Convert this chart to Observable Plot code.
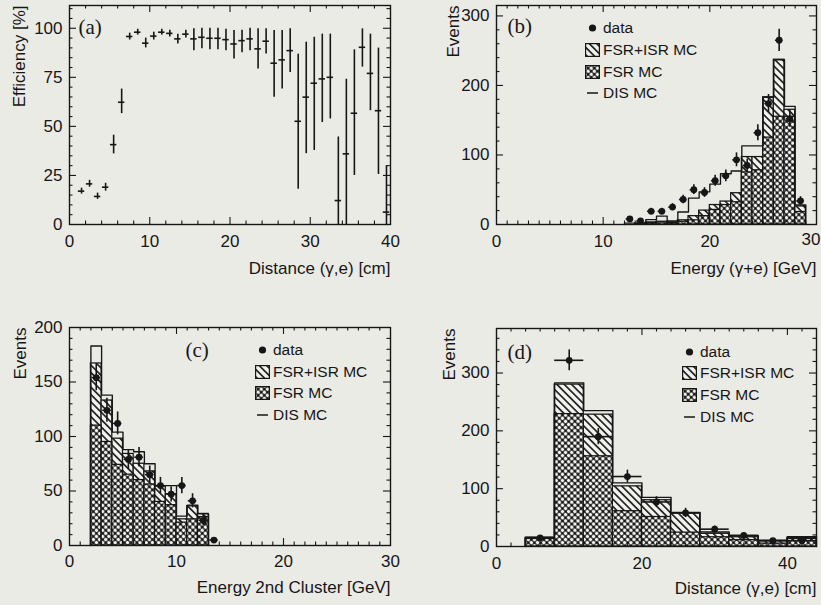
<!DOCTYPE html>
<html>
<head>
<meta charset="utf-8">
<script src="https://cdn.jsdelivr.net/npm/d3@7"></script>
<script src="https://cdn.jsdelivr.net/npm/@observablehq/plot@0.6"></script>
<style>
  html, body { margin: 0; padding: 0; background: #ebebe6; }
  #fig { position: relative; width: 821px; height: 605px; overflow: hidden; background: #ebebe6;
         font-family: "Liberation Sans", Arial, Helvetica, sans-serif; color: #161616; }
  .panel { position: absolute; }
  .legend { position: absolute; font-size: 15.5px; }
  .legend .row { display: flex; align-items: center; height: 21.7px; white-space: nowrap; }
  .legend svg { width: 15px; height: 14px; margin-right: 3px; flex: none; overflow: visible; }
</style>
</head>
<body>
<svg width="0" height="0" style="position:absolute">
  <defs>
    <pattern id="hatch" width="5.2" height="5.2" patternUnits="userSpaceOnUse" patternTransform="rotate(-45)">
      <rect width="5.2" height="5.2" fill="#f1f1ed"/>
      <line x1="2.6" y1="0" x2="2.6" y2="5.2" stroke="#161616" stroke-width="1.6"/>
    </pattern>
    <pattern id="cross" width="4.4" height="4.4" patternUnits="userSpaceOnUse" patternTransform="rotate(45)">
      <rect width="4.4" height="4.4" fill="#161616"/>
      <circle cx="2.2" cy="2.2" r="1.78" fill="#f1f1ed"/>
    </pattern>
  </defs>
</svg>
<div id="fig"></div>
<script>
const ink = "#161616";

// ---------- Panel (a): efficiency vs distance ----------
const aDist = [1.5,2.5,3.5,4.5,5.5,6.5,7.5,8.5,9.5,10.5,11.5,12.5,13.5,14.5,15.5,16.5,17.5,18.5,19.5,20.5,
               21.5,22.5,23.5,24.5,25.5,26.5,27.5,28.5,29.5,30.5,31.5,32.5,33.5,34.5,35.5,36.5,37.5,38.5,39.5];
const aEff  = [17,20.7,14.3,19,40.7,62.3,95.8,98,92.4,96,98,97.4,94.6,97,94.6,95.4,94.9,94.9,94.2,92,
               93.7,94.6,89.5,93.4,82.2,83.9,88.6,52.6,64.9,72,74.2,75,12.2,36,56.7,90.3,77,58,6.3];
const aLow  = [15.5,19,12.8,17,36,56.5,94,96.5,90,94,96.5,95.5,92,95,88.6,89.5,89,89,88.5,84.4,
               87.5,88.5,79.3,86.9,64.9,69,77.5,18,36.1,37.7,52,53.8,0,0,25,80.2,58,25.5,0];
const aHigh = [18.5,22.5,16,21,45.5,69,97.5,99.5,95,98,99.5,99,97,99,99.7,100,100,100,99.5,98.8,
               99,100,99.7,99.7,98.8,98.8,99.7,86.8,92.9,95.4,97,97,44.6,74,89,99.7,97,89.9,30];
const aTicksX = [0,10,20,30,40];
const aTicksY = [0,25,50,75,100];

// ---------- Panel (b): energy (gamma+e) ----------
const bBinLo  = [12,13,14,15,16,17,18,19,20,21,22,23,24,25,26,27,28];
const bDIS    = [2,2,7,12,5,18,38,47,58,73,77,113,113,183,237,170,28];
const bFSRISR = [0,1,3,4,3,6,12,20,28,33,45,97,97,183,237,165,26];
const bFSR    = [0,1,2,3,2,4,6,12,21,28,32,75,78,125,155,155,18];
const bDataX  = [12.5,13.5,14.5,15.5,16.5,17.5,18.5,19.5,20.5,21.5,22.5,23.5,24.5,25.5,26.5,27.5,28.5];
const bData   = [8,5,19,19,25,36,50,46,63,70,93,85,132,174,265,152,34];
const bErr    = [3,2.5,4.5,4.5,5,6,7,7,8,8.5,10,9,11.5,13,16,12,6];
const bTicksX = [0,10,20];
const bEdgeTick = [30];
const bTicksY = [0,100,200,300];

// ---------- Panel (c): energy of 2nd cluster ----------
const cBinLo  = [2,3,4,5,6,7,8,9,10,11,12];
const cDIS    = [183,138,104,88,86,75,55,55,27,37,29];
const cFSRISR = [167,133,98,84,75,68,54,47,24,36,29];
const cFSR    = [110,95,74,65,60,56,40,37,21,24,26];
const cDataX  = [2.5,3.5,4.5,5.5,6.5,7.5,8.5,9.5,10.5,11.5,12.5,13.5];
const cData   = [154,124,112,79,81,65,55,47,55,41,23,5];
const cErr    = [12,11,10.5,9,9,8,7.5,7,7.5,6.5,5,2.2];
const cTicksX = [0,10,20,30];
const cTicksY = [0,50,100,150,200];

// ---------- Panel (d): distance (gamma,e) ----------
const dBinLo  = [4,8,12,16,20,24,28,32,36,40];
const dDIS    = [16,283,235,110,85,59,25,19,11,17];
const dFSRISR = [15,280,228,104,80,57,22,16,9,15];
const dFSR    = [13,229,156,61,51,24,16,11,5,13];
const dDataX  = [6,10,14,18,22,26,30,34,38,42];
const dData   = [15,322,190,121,77,58,30,19,10,10];
const dErr    = [4,18,14,11,9,8,5.5,4.4,3.2,3.2];
const dTicksX = [0,20,40];
const dTicksY = [0,100,200,300];

const legendLabels = ["data", "FSR+ISR MC", "FSR MC", "DIS MC"];

const fig = document.getElementById("fig");
const FONT = '"Liberation Sans", Arial, Helvetica, sans-serif';

function histMarks(binLo, width, dis, fi, f) {
  const rows = binLo.map((lo, i) => ({lo, hi: lo + width, dis: dis[i], fi: fi[i], f: f[i]}));
  const end = binLo[binLo.length - 1] + width;
  const step = [{x: binLo[0], y: 0}]
    .concat(binLo.map((lo, i) => ({x: lo, y: dis[i]})))
    .concat([{x: end, y: dis[dis.length - 1]}, {x: end, y: 0}]);
  return [
    Plot.rect(rows, {x1: "lo", x2: "hi", y1: () => 0, y2: "fi", fill: "url(#hatch)", stroke: ink, strokeWidth: 1.25}),
    Plot.rect(rows.filter(d => d.f > 0), {x1: "lo", x2: "hi", y1: () => 0, y2: "f", fill: "url(#cross)", stroke: ink, strokeWidth: 1.25}),
    Plot.line(step, {x: "x", y: "y", curve: "step-after", stroke: ink, strokeWidth: 1.35})
  ];
}

function dataMarks(xs, vals, errs, halfW, r) {
  const rows = xs.map((x, i) => ({x, v: vals[i], lo: Math.max(0, vals[i] - errs[i]), hi: vals[i] + errs[i]}));
  return [
    Plot.ruleX(rows, {x: "x", y1: "lo", y2: "hi", stroke: ink, strokeWidth: 1.6}),
    Plot.ruleY(rows, {y: "v", x1: d => d.x - halfW, x2: d => d.x + halfW, stroke: ink, strokeWidth: 1.6}),
    Plot.dot(rows, {x: "x", y: "v", r, fill: ink, stroke: "none"})
  ];
}

function panel(o) {
  const fw = o.width - o.ml - o.mr, fh = o.height - o.mt - o.mb;
  const inside = dom => v => v > dom[0] + 1e-9 && v < dom[1] - 1e-9;
  const xAll = o.xTicks.concat(o.xEdge || []);
  const xMaj = xAll.filter(inside(o.xDomain));
  const yMaj = o.yTicks.filter(inside(o.yDomain));
  const xMin = d3.range(o.xDomain[0], o.xDomain[1], o.xMinor).filter(inside(o.xDomain)).filter(v => !xMaj.includes(v));
  const yMin = d3.range(o.yDomain[0], o.yDomain[1], o.yMinor).filter(inside(o.yDomain)).filter(v => !yMaj.includes(v));
  const L = 7, S = 3.5, sw = 1.1;
  const ticks = [
    Plot.tickY(yMaj, {y: d => d, insetRight: fw - L, stroke: ink, strokeWidth: sw}),
    Plot.tickY(yMaj, {y: d => d, insetLeft: fw - L, stroke: ink, strokeWidth: sw}),
    Plot.tickY(yMin, {y: d => d, insetRight: fw - S, stroke: ink, strokeWidth: sw}),
    Plot.tickY(yMin, {y: d => d, insetLeft: fw - S, stroke: ink, strokeWidth: sw}),
    Plot.tickX(xMaj, {x: d => d, insetTop: fh - L, stroke: ink, strokeWidth: sw}),
    Plot.tickX(xMaj, {x: d => d, insetBottom: fh - L, stroke: ink, strokeWidth: sw}),
    Plot.tickX(xMin, {x: d => d, insetTop: fh - S, stroke: ink, strokeWidth: sw}),
    Plot.tickX(xMin, {x: d => d, insetBottom: fh - S, stroke: ink, strokeWidth: sw})
  ];
  const extra = o.xEdge ? [
    Plot.text(o.xEdge, {x: d => d, text: d => String(d), frameAnchor: "bottom", textAnchor: "end", lineAnchor: "top",
                        dx: 4, dy: o.xPad - 2, fontSize: 17, fill: ink})
  ] : [];
  const svg = Plot.plot({
    width: o.width, height: o.height,
    marginTop: o.mt, marginRight: o.mr, marginBottom: o.mb, marginLeft: o.ml,
    style: {background: "transparent", fontFamily: FONT, fontSize: "17px", color: ink, overflow: "visible"},
    x: {domain: o.xDomain, ticks: o.xTicks, tickSize: 0, tickPadding: o.xPad, label: null},
    y: {domain: o.yDomain, ticks: o.yTicks, tickSize: 0, tickPadding: 7, label: null},
    marks: [
      ...o.marks,
      ...ticks,
      ...extra,
      Plot.frame({stroke: ink, strokeWidth: 1.4}),
      Plot.text([o.xTitle], {text: d => d, frameAnchor: "bottom-right", textAnchor: "end", lineAnchor: "middle",
                             dy: o.xTitleDy, fontSize: 17, fill: ink}),
      Plot.text([o.yTitle], {text: d => d, frameAnchor: "top-left", textAnchor: "end", lineAnchor: "middle",
                             rotate: -90, dx: o.yTitleDx, fontSize: 17, fill: ink}),
      Plot.text([o.tag], {text: d => d, frameAnchor: "top-left", textAnchor: "start", lineAnchor: "middle",
                          dx: o.tagDx, dy: o.tagDy, fontSize: 21, fontFamily: '"Liberation Serif", "Times New Roman", serif', fill: ink})
    ]
  });
  const wrap = document.createElement("div");
  wrap.className = "panel";
  wrap.style.left = o.left + "px";
  wrap.style.top = o.top + "px";
  wrap.appendChild(svg);
  fig.appendChild(wrap);
}

function legend(left, top) {
  const div = document.createElement("div");
  div.className = "legend";
  div.style.left = left + "px";
  div.style.top = top + "px";
  const sw = [
    `<circle cx="7.5" cy="7" r="3.6" fill="${ink}"/>`,
    `<rect x="0.6" y="0.6" width="13.8" height="12.8" fill="url(#hatch)" stroke="${ink}" stroke-width="1.2"/>`,
    `<rect x="0.6" y="0.6" width="13.8" height="12.8" fill="url(#cross)" stroke="${ink}" stroke-width="1.2"/>`,
    `<line x1="2" y1="7" x2="13" y2="7" stroke="${ink}" stroke-width="1.5"/>`
  ];
  div.innerHTML = legendLabels.map((t, i) =>
    `<div class="row"><svg viewBox="0 0 15 14">${sw[i]}</svg><span>${t}</span></div>`).join("");
  fig.appendChild(div);
}

// (a)
const aRows = aDist.map((x, i) => ({x, v: aEff[i], lo: aLow[i], hi: aHigh[i]}));
panel({
  left: 0, top: 0, width: 410, height: 300, mt: 5, mr: 20, mb: 76, ml: 69,
  xDomain: [0, 40], yDomain: [0, 111.6], xTicks: aTicksX, yTicks: aTicksY, xMinor: 2, yMinor: 5, xPad: 10,
  xTitle: "Distance (γ,e) [cm]", xTitleDy: 44, yTitle: "Efficiency [%]", yTitleDx: -50,
  tag: "(a)", tagDx: 9, tagDy: 22,
  marks: [
    Plot.ruleX(aRows, {x: "x", y1: "lo", y2: "hi", stroke: ink, strokeWidth: 1.6}),
    Plot.ruleY(aRows, {y: "v", x1: d => d.x - 0.4, x2: d => d.x + 0.4, stroke: ink, strokeWidth: 1.6})
  ]
});

// (b)
panel({
  left: 410, top: 0, width: 411, height: 300, mt: 5, mr: 5, mb: 76, ml: 86,
  xDomain: [0, 30], yDomain: [0, 315], xTicks: bTicksX, xEdge: bEdgeTick, yTicks: bTicksY, xMinor: 1, yMinor: 20, xPad: 10,
  xTitle: "Energy (γ+e) [GeV]", xTitleDy: 44, yTitle: "Events", yTitleDx: -43,
  tag: "(b)", tagDx: 11, tagDy: 21,
  marks: [...histMarks(bBinLo, 1, bDIS, bFSRISR, bFSR), ...dataMarks(bDataX, bData, bErr, 0.35, 3.4)]
});
legend(585, 17.5);

// (c)
panel({
  left: 0, top: 300, width: 410, height: 305, mt: 27, mr: 20, mb: 60, ml: 69,
  xDomain: [0, 30], yDomain: [0, 200], xTicks: cTicksX, yTicks: cTicksY, xMinor: 1, yMinor: 10, xPad: 9,
  xTitle: "Energy 2nd Cluster [GeV]", xTitleDy: 42, yTitle: "Events", yTitleDx: -49,
  tag: "(c)", tagDx: 116, tagDy: 23,
  marks: [...histMarks(cBinLo, 1, cDIS, cFSRISR, cFSR), ...dataMarks(cDataX, cData, cErr, 0.4, 3.4)]
});
legend(255, 339.2);

// (d)
panel({
  left: 410, top: 300, width: 411, height: 305, mt: 28, mr: 5, mb: 59, ml: 86,
  xDomain: [0, 44], yDomain: [0, 377], xTicks: dTicksX, yTicks: dTicksY, xMinor: 2, yMinor: 20, xPad: 10,
  xTitle: "Distance (γ,e) [cm]", xTitleDy: 42, yTitle: "Events", yTitleDx: -47,
  tag: "(d)", tagDx: 11, tagDy: 24,
  marks: [...histMarks(dBinLo, 4, dDIS, dFSRISR, dFSR), ...dataMarks(dDataX, dData, dErr, 2, 3.4)]
});
legend(682, 340.8);
</script>
</body>
</html>
